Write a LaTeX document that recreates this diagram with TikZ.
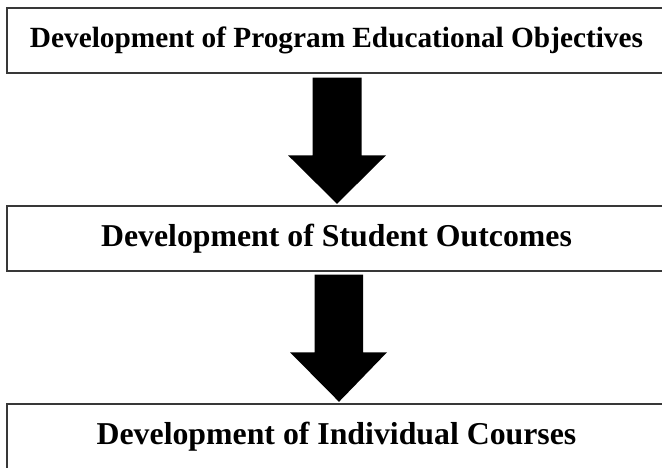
\documentclass[tikz,border=0pt]{standalone}
\usepackage{fontspec}
\setmainfont{Liberation Serif}
\usetikzlibrary{calc}
\begin{document}
\begin{tikzpicture}[x=1pt,y=1pt,
  stagebox/.style={draw=black!78, line width=1.4pt, fill=white,
    minimum width=659pt, minimum height=65pt, inner sep=0pt,
    font=\bfseries},
  bigarrow/.style={fill=black}]
\useasboundingbox (0,0) rectangle (662,468);
\clip (0,0) rectangle (662,468);

% the three stages, top to bottom
\node[stagebox, font=\fontsize{29.3}{32}\selectfont\bfseries] (peo) at (336.5,427.5)
  {Development of Program Educational Objectives};
\node[stagebox, font=\fontsize{31.8}{34}\selectfont\bfseries] (so) at (336.5,229.5)
  {Development of Student Outcomes};
\node[stagebox, font=\fontsize{31.8}{34}\selectfont\bfseries] (ic) at (336.5,31.5)
  {Development of Individual Courses};

% block arrows linking the stages
\fill[bigarrow] let \p1=(peo.south), \p2=(so.north) in
  (\x1-24,\y1-4) -- (\x1+25,\y1-4) -- (\x1+25,\y2+50) -- (\x1+49.5,\y2+50)
  -- (\x1+0.5,\y2+1.5) -- (\x1-48.5,\y2+50) -- (\x1-24,\y2+50) -- cycle;
\fill[bigarrow] let \p1=(so.south), \p2=(ic.north) in
  (\x1-22,\y1-3) -- (\x1+26.5,\y1-3) -- (\x1+26.5,\y2+51) -- (\x1+50.5,\y2+51)
  -- (\x1+2.5,\y2+1.5) -- (\x1-46.5,\y2+51) -- (\x1-22,\y2+51) -- cycle;
\end{tikzpicture}
\end{document}
